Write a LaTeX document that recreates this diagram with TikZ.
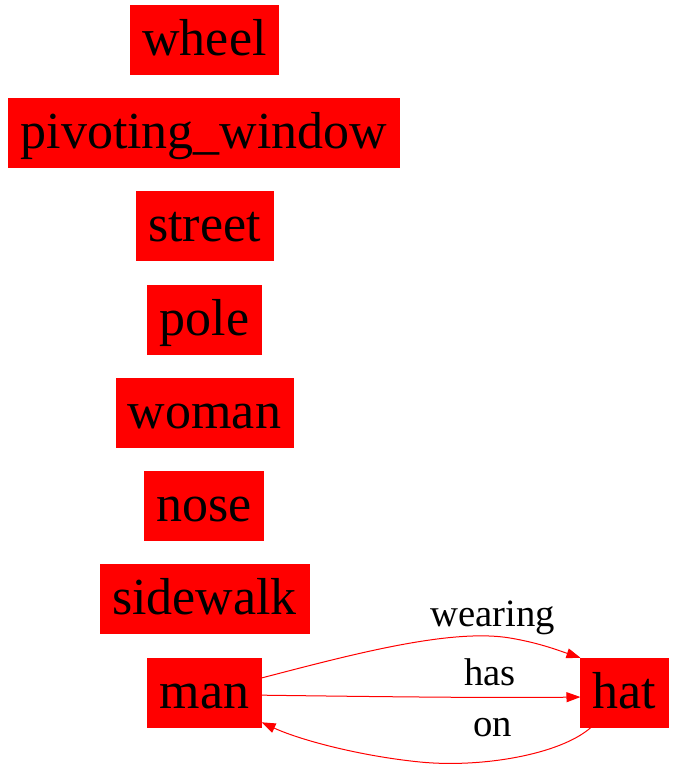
\documentclass[tikz,border=0pt]{standalone}
\usepackage{fontspec}
\setmainfont{Liberation Serif}
\usetikzlibrary{arrows.meta}
\tikzset{
  obj/.style={fill=red, draw=red, inner xsep=9pt, inner ysep=0pt,
    minimum height=51.75pt, text height=27.3pt, text depth=4pt,
    font=\fontsize{39}{39}\selectfont},
  rel/.style={red, line width=0.75pt, -{Triangle[length=10.5pt,width=7.5pt]}},
  rellbl/.style={anchor=base, inner sep=0pt, font=\fontsize{29}{29}\selectfont},
}
\begin{document}
\begin{tikzpicture}[x=0.75pt, y=-0.75pt]
  \useasboundingbox (0,0) rectangle (675,770);
  % objects
  \node[obj] (wheel) at (204.5,39.5) {wheel};
  \node[obj] (window) at (204,132.5) {pivoting\_window};
  \node[obj] (street) at (204.5,226) {street};
  \node[obj] (pole) at (204.5,319.5) {pole};
  \node[obj] (woman) at (204.5,412.5) {woman};
  \node[obj] (nose) at (204,506) {nose};
  \node[obj] (sidewalk) at (204.5,599) {sidewalk};
  \node[obj] (man) at (204.5,692.5) {man};
  \node[obj] (hat) at (624.5,692.5) {hat};
  % relations
  \draw[rel] ([yshift=10.9pt]man.east) .. controls (350,655) and (450,628) .. (510,638)
    .. controls (540,643) and (560,651) .. (hat.north west);
  \draw[rel] ([yshift=-2pt]man.east) .. controls (400,697) and (500,698) .. ([yshift=-3.4pt]hat.west);
  \draw[rel] ([xshift=8pt]hat.south west) .. controls (560,755) and (480,768) .. (420,762)
    .. controls (360,756) and (300,740) .. ([yshift=3.75pt]man.south east);
  \node[rellbl] (wearinglbl) at (492.5,626.7) {wearing};
  \node[rellbl] (haslbl) at (490,685) {has};
  \node[rellbl] (onlbl) at (492.5,736.7) {on};
\end{tikzpicture}
\end{document}
